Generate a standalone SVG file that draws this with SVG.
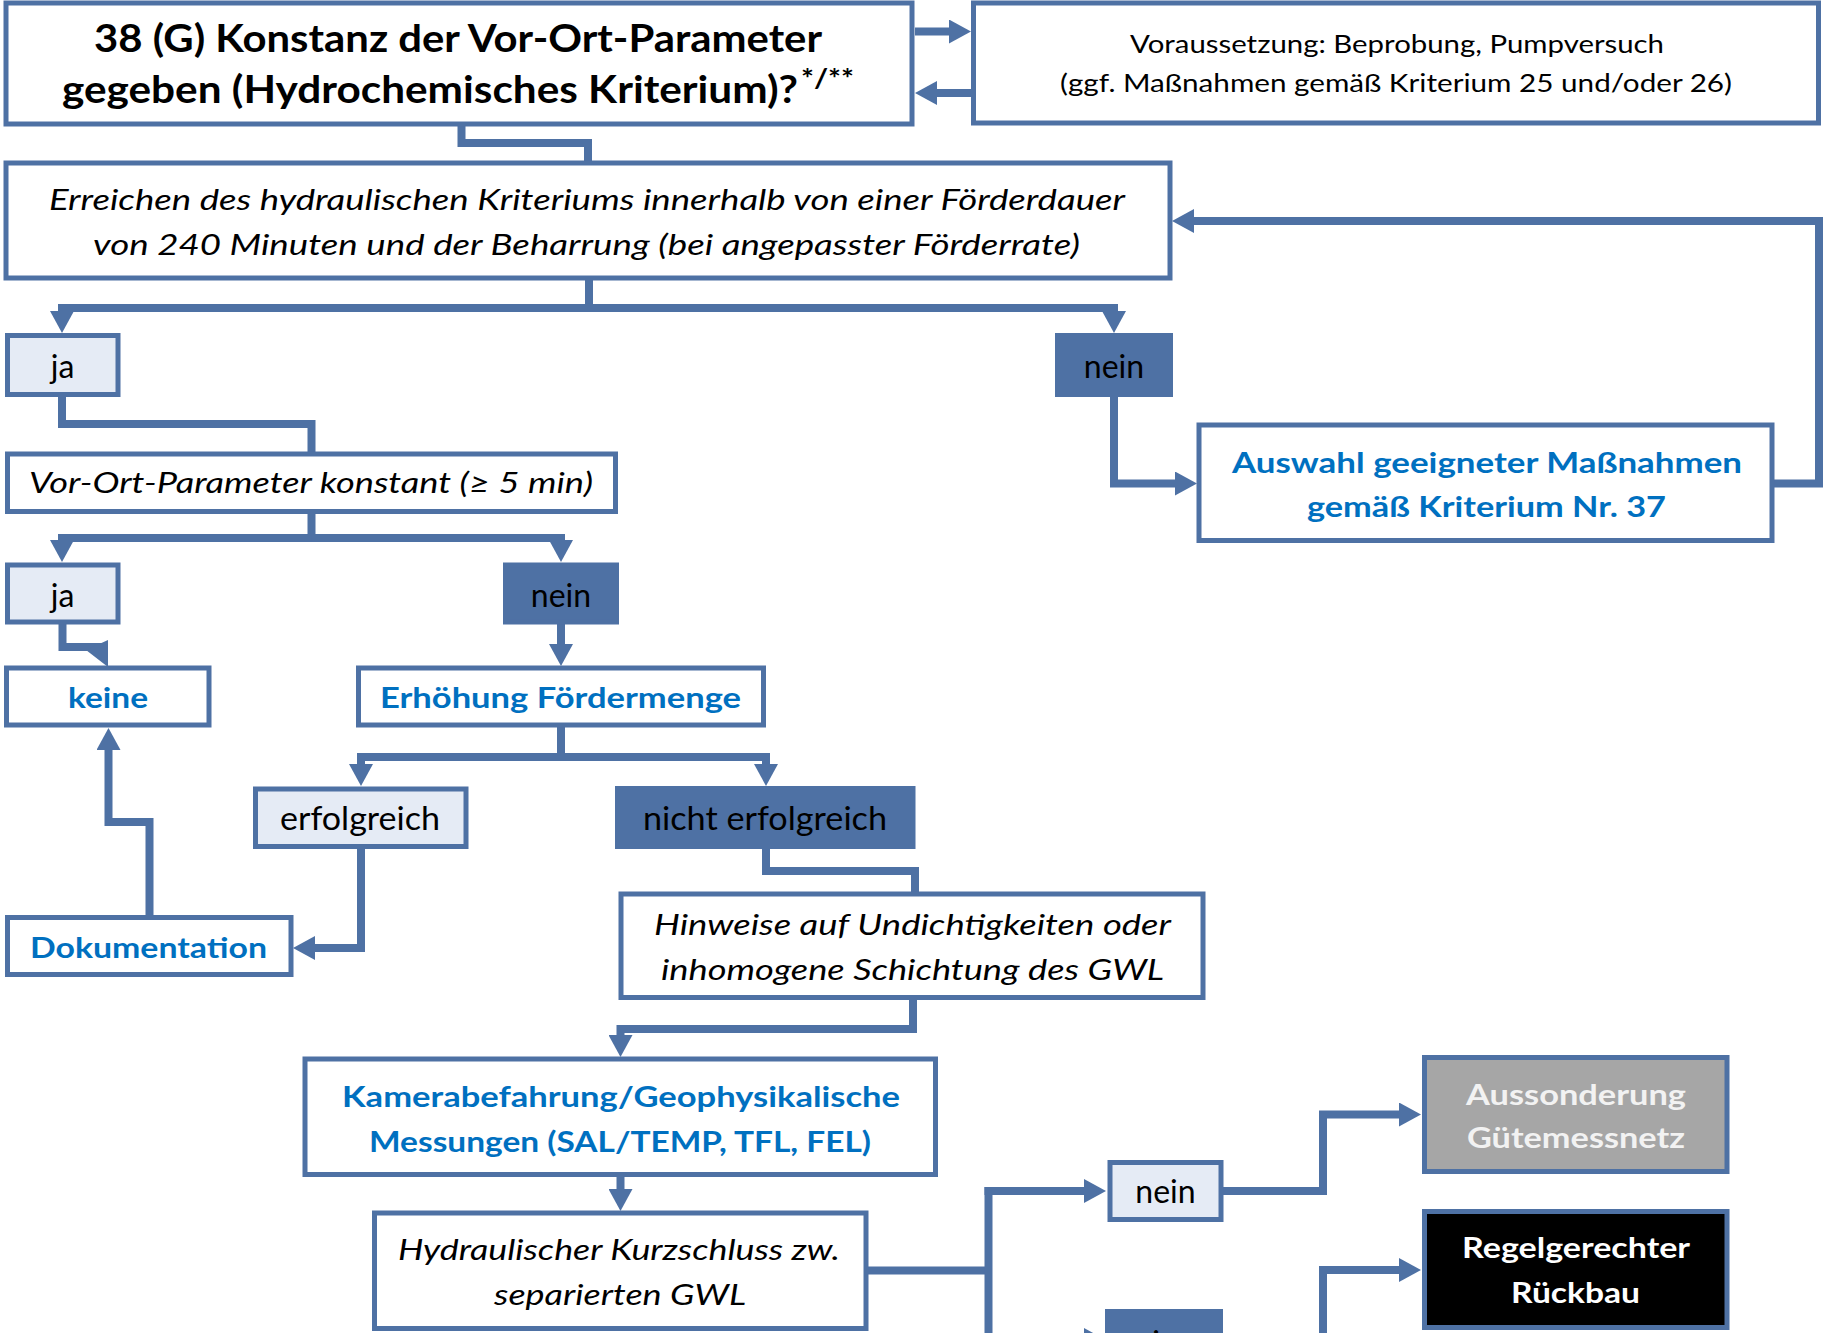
<svg xmlns="http://www.w3.org/2000/svg" width="1825" height="1333" viewBox="0 0 1825 1333">
<style>
.box{fill:#ffffff;stroke:#4E71A4;stroke-width:5}
.lt{fill:#E5EBF5;stroke:#4E71A4;stroke-width:5}
.dk{fill:#4E71A4;stroke:#4E71A4;stroke-width:5}
.gr{fill:#A6A6A6;stroke:#4E71A4;stroke-width:5}
.bk{fill:#000000;stroke:#4E71A4;stroke-width:5}
.conn{fill:none;stroke:#4E71A4;stroke-width:8;stroke-linejoin:miter}
.arr{marker-end:url(#ah)}
text{font-family:Lato,"Open Sans","Liberation Sans",sans-serif;text-anchor:middle;fill:#000}
.b{font-weight:bold}
.i{font-style:italic}
.blue{fill:#0070C0}
.wh{fill:#F2F2F2}
.lbl{font-size:32px}
</style>
<defs>
<marker id="ah" viewBox="0 0 22 24" markerWidth="22" markerHeight="24" refX="2" refY="12" orient="auto" markerUnits="userSpaceOnUse">
<path d="M0,0 L22,12 L0,24 z" fill="#4E71A4"/>
</marker>
</defs>
<g id="connectors">
<path class="conn" d="M461.5,126 V143 H588 V163"/>
<path class="conn arr" d="M915,31.5 H951"/>
<path class="conn arr" d="M971,93 H935"/>
<path class="conn arr" d="M589,278 V308 H62 V313"/>
<path class="conn arr" d="M589,308 H1114 V313"/>
<path class="conn arr" d="M1114,397 V483.5 H1177"/>
<path class="conn arr" d="M1774,483.5 H1819 V221 H1192"/>
<path class="conn" d="M62,397 V424 H311.5 V454"/>
<path class="conn arr" d="M311.5,514 V538 H62 V542"/>
<path class="conn arr" d="M311.5,538 H561 V542"/>
<path class="conn" d="M62.5,624 V647 H104"/>
<polygon points="108,640 108,667 86,650" fill="#4E71A4"/>
<path class="conn arr" d="M561,624 V646"/>
<path class="conn arr" d="M561,727 V757 H361 V766"/>
<path class="conn arr" d="M561,757 H766 V766"/>
<path class="conn arr" d="M361,849 V948 H313"/>
<path class="conn arr" d="M149.5,917 V822 H108.5 V748"/>
<path class="conn" d="M766,849 V871 H915 V894"/>
<path class="conn arr" d="M913,997 V1029 H620.5 V1037"/>
<path class="conn arr" d="M620.5,1176 V1191"/>
<path class="conn" d="M868,1270.5 H988.5"/>
<path class="conn" d="M988.5,1187 V1345"/>
<path class="conn arr" d="M984.5,1191 H1086"/>
<path class="conn arr" d="M984.5,1340 H1086"/>
<path class="conn arr" d="M1223,1191 H1323 V1114.5 H1401"/>
<path class="conn arr" d="M1223,1340 H1323 V1270 H1401"/>
</g>
<g id="n1">
<rect class="box" x="6" y="3" width="906" height="121"/>
<text class="b" x="458" y="52" font-size="38" textLength="728" lengthAdjust="spacingAndGlyphs">38 (G) Konstanz der Vor-Ort-Parameter</text>
<text class="b" x="62" y="103" font-size="38" style="text-anchor:start"><tspan textLength="736" lengthAdjust="spacingAndGlyphs">gegeben (Hydrochemisches Kriterium)?</tspan><tspan x="801" dy="-15" font-size="27" textLength="53" lengthAdjust="spacingAndGlyphs">*/**</tspan></text>
</g>
<g id="n2">
<rect class="box" x="973.5" y="3" width="845" height="120"/>
<text x="1397" y="53" font-size="25" textLength="534" lengthAdjust="spacingAndGlyphs">Voraussetzung: Beprobung, Pumpversuch</text>
<text x="1396" y="92" font-size="25" textLength="672" lengthAdjust="spacingAndGlyphs">(ggf. Maßnahmen gemäß Kriterium 25 und/oder 26)</text>
</g>
<g id="n3">
<rect class="box" x="6" y="163" width="1164" height="115"/>
<text class="i" x="587" y="210" font-size="29" textLength="1076" lengthAdjust="spacingAndGlyphs">Erreichen des hydraulischen Kriteriums innerhalb von einer Förderdauer</text>
<text class="i" x="586.5" y="255" font-size="29" textLength="987" lengthAdjust="spacingAndGlyphs">von 240 Minuten und der Beharrung (bei angepasster Förderrate)</text>
</g>
<g id="ja1">
<rect class="lt" x="7.5" y="335.5" width="110.5" height="59"/>
<text class="lbl" x="62.5" y="378">ja</text>
</g>
<g id="nein1">
<rect class="dk" x="1057.5" y="335.5" width="113" height="59"/>
<text class="lbl" x="1114" y="378">nein</text>
</g>
<g id="n_auswahl">
<rect class="box" x="1199" y="425" width="573" height="115.5"/>
<text class="b blue" x="1487" y="473" font-size="29" textLength="510" lengthAdjust="spacingAndGlyphs">Auswahl geeigneter Maßnahmen</text>
<text class="b blue" x="1486.5" y="517" font-size="29" textLength="359" lengthAdjust="spacingAndGlyphs">gemäß Kriterium Nr. 37</text>
</g>
<g id="n_vorort">
<rect class="box" x="7.5" y="454" width="608" height="57.5"/>
<text class="i" x="311" y="493" font-size="29" textLength="564" lengthAdjust="spacingAndGlyphs">Vor-Ort-Parameter konstant (≥ 5 min)</text>
</g>
<g id="ja2">
<rect class="lt" x="7.5" y="565" width="110.5" height="57"/>
<text class="lbl" x="62.5" y="607">ja</text>
</g>
<g id="nein2">
<rect class="dk" x="505.5" y="565" width="111" height="57"/>
<text class="lbl" x="561" y="607">nein</text>
</g>
<g id="n_keine">
<rect class="box" x="6.5" y="668" width="202.5" height="57"/>
<text class="b blue" x="108" y="708" font-size="29" textLength="80" lengthAdjust="spacingAndGlyphs">keine</text>
</g>
<g id="n_erhoehung">
<rect class="box" x="358.5" y="668" width="405" height="57"/>
<text class="b blue" x="560.5" y="708" font-size="29" textLength="361" lengthAdjust="spacingAndGlyphs">Erhöhung Fördermenge</text>
</g>
<g id="erfolgreich">
<rect class="lt" x="255.5" y="789" width="210.5" height="57.5"/>
<text class="lbl" x="360" y="830" textLength="160" lengthAdjust="spacingAndGlyphs">erfolgreich</text>
</g>
<g id="nicht_erfolgreich">
<rect class="dk" x="617.5" y="788.5" width="295.5" height="58"/>
<text class="lbl" x="765" y="830" textLength="244" lengthAdjust="spacingAndGlyphs">nicht erfolgreich</text>
</g>
<g id="n_dokumentation">
<rect class="box" x="7.5" y="917.5" width="283.5" height="57"/>
<text class="b blue" x="148.5" y="958" font-size="29" textLength="237" lengthAdjust="spacingAndGlyphs">Dokumentation</text>
</g>
<g id="n_hinweise">
<rect class="box" x="621" y="894" width="582" height="103.5"/>
<text class="i" x="912.5" y="935" font-size="28" textLength="517" lengthAdjust="spacingAndGlyphs">Hinweise auf Undichtigkeiten oder</text>
<text class="i" x="912.5" y="980" font-size="28" textLength="503" lengthAdjust="spacingAndGlyphs">inhomogene Schichtung des GWL</text>
</g>
<g id="n_kamera">
<rect class="box" x="305" y="1059" width="630.5" height="115.5"/>
<text class="b blue" x="621" y="1107" font-size="29" textLength="558" lengthAdjust="spacingAndGlyphs">Kamerabefahrung/Geophysikalische</text>
<text class="b blue" x="620" y="1152" font-size="29" textLength="502" lengthAdjust="spacingAndGlyphs">Messungen (SAL/TEMP, TFL, FEL)</text>
</g>
<g id="n_hydraulisch">
<rect class="box" x="374.5" y="1213" width="491.5" height="115.5"/>
<text class="i" x="619" y="1260" font-size="28" textLength="442" lengthAdjust="spacingAndGlyphs">Hydraulischer Kurzschluss zw.</text>
<text class="i" x="620" y="1305" font-size="28" textLength="252" lengthAdjust="spacingAndGlyphs">separierten GWL</text>
</g>
<g id="nein3">
<rect class="lt" x="1110" y="1162.5" width="111" height="57"/>
<text class="lbl" x="1165.5" y="1203">nein</text>
</g>
<g id="ja3">
<rect class="dk" x="1107.5" y="1311.5" width="113" height="57"/>
<text class="lbl" x="1164" y="1354">ja</text>
</g>
<g id="n_aussonderung">
<rect class="gr" x="1424.5" y="1057.5" width="302.5" height="114"/>
<text class="b wh" x="1576" y="1105" font-size="29" textLength="220" lengthAdjust="spacingAndGlyphs">Aussonderung</text>
<text class="b wh" x="1576" y="1148" font-size="29" textLength="218" lengthAdjust="spacingAndGlyphs">Gütemessnetz</text>
</g>
<g id="n_rueckbau">
<rect class="bk" x="1424.5" y="1211.5" width="302.5" height="116"/>
<text class="b" x="1576" y="1258" font-size="29" style="fill:#ffffff" textLength="228" lengthAdjust="spacingAndGlyphs">Regelgerechter</text>
<text class="b" x="1575.5" y="1303" font-size="29" style="fill:#ffffff" textLength="129" lengthAdjust="spacingAndGlyphs">Rückbau</text>
</g>
</svg>
